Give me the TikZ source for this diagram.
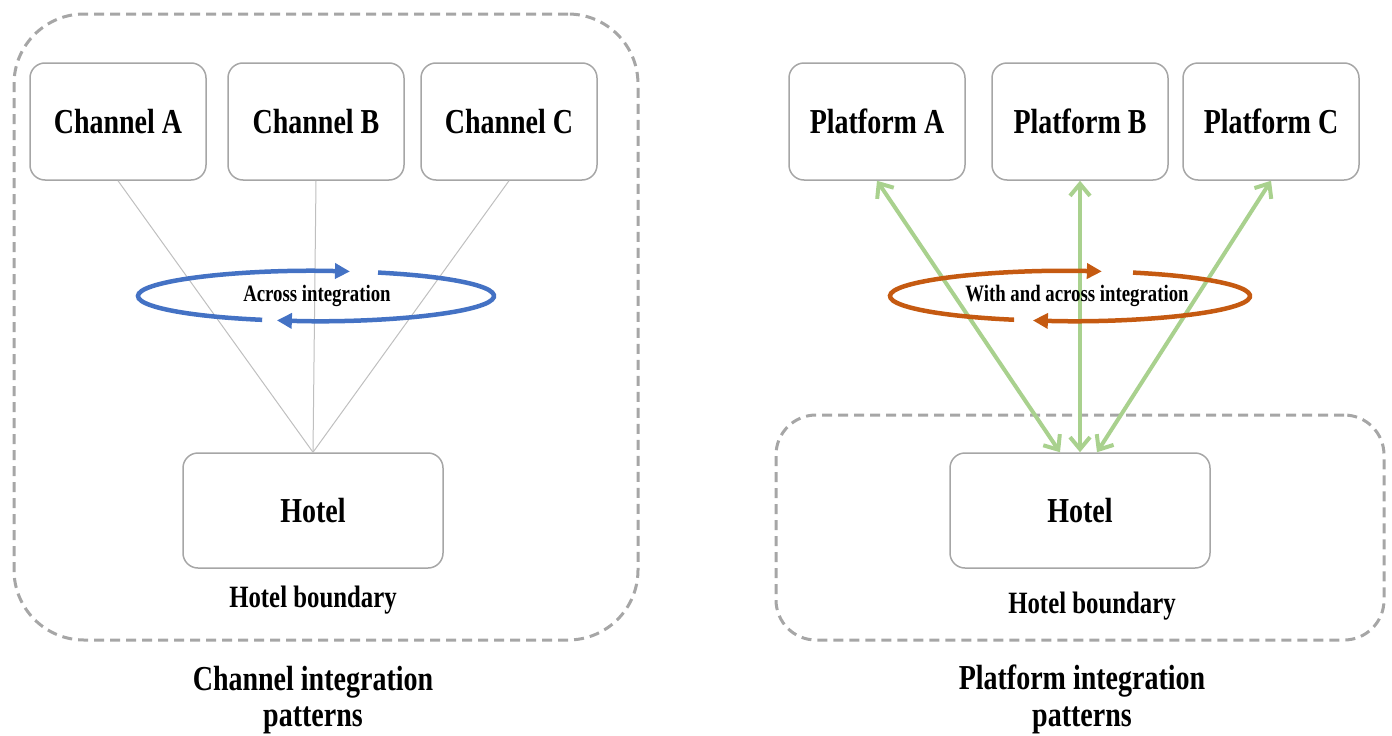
\documentclass[tikz,border=0pt]{standalone}
\usepackage{fontspec}
\usepackage{graphicx}
\setmainfont{Liberation Serif}
\usetikzlibrary{arrows.meta,calc}
\definecolor{boxgray}{HTML}{A6A6A6}
\definecolor{linegray}{HTML}{BFBFBF}
\definecolor{myblue}{HTML}{4472C4}
\definecolor{myorange}{HTML}{C55A11}
\definecolor{mygreen}{HTML}{A9D18E}
\newcommand\narrowtxt[1]{\scalebox{0.8}[1]{#1}}
\tikzset{
  entity/.style={draw=boxgray, line width=1.5pt, rounded corners=15pt, minimum width=176pt, minimum height=117pt, inner sep=0pt, font=\fontsize{35}{40}\selectfont\bfseries},
  hotelbox/.style={entity, minimum width=260pt, minimum height=115pt},
  boundary/.style={draw=boxgray, line width=3pt, dash pattern=on 10pt off 6pt, inner sep=0pt},
  boundlabel/.style={font=\fontsize{31}{35}\selectfont\bfseries},
  title/.style={font=\fontsize{35}{40}\selectfont\bfseries},
  looplabel/.style={font=\fontsize{23.5}{27}\selectfont\bfseries},
  link/.style={draw=linegray, line width=1pt},
  flow/.style={draw=mygreen, line width=4pt, line cap=round, {Straight Barb[length=12pt,width=20pt,line width=4pt]}-{Straight Barb[length=12pt,width=20pt,line width=4pt]}},
  loop/.style={line width=4.5pt, -{Triangle[length=15pt,width=15pt]}}
}
\begin{document}
\begin{tikzpicture}[x=1pt,y=-1pt]
\useasboundingbox (0,0) rectangle (1392,736);
% boundaries
\node[boundary, rounded corners=70pt, minimum width=624pt, minimum height=626pt] (bL) at (326,327) {};
\node[boundary, rounded corners=40pt, minimum width=608pt, minimum height=225pt] (bR) at (1080,527.5) {};
% left side
\node[entity] (chA) at (118,121.5) {\narrowtxt{Channel A}};
\node[entity] (chB) at (316,121.5) {\narrowtxt{Channel B}};
\node[entity] (chC) at (509,121.5) {\narrowtxt{Channel C}};
\node[hotelbox] (hotelL) at (313,510.5) {\narrowtxt{Hotel}};
\draw[link] (chA.south) -- (hotelL.north);
\draw[link] (chB.south) -- (hotelL.north);
\draw[link] (chC.south) -- (hotelL.north);
\coordinate (eL) at (316,296);
\draw[loop, draw=myblue] ($(eL)+(107.6:178 and 25)$) arc[start angle=107.6, end angle=281, x radius=178, y radius=25];
\draw[loop, draw=myblue] ($(eL)+(290.4:178 and 25)$) arc[start angle=290.4, end angle=462.7, x radius=178, y radius=25];
\node[looplabel] (lblL) at (317,296) {\narrowtxt{Across integration}};
\node[boundlabel] (hbL) at (313,600) {\narrowtxt{Hotel boundary}};
\node[title] (tL1) at (313,682) {\narrowtxt{Channel integration}};
\node[title] (tL2) at (313,720) {\narrowtxt{patterns}};
% right side
\node[entity] (pA) at (877,121.5) {\narrowtxt{Platform A}};
\node[entity] (pB) at (1080,121.5) {\narrowtxt{Platform B}};
\node[entity] (pC) at (1271,121.5) {\narrowtxt{Platform C}};
\node[hotelbox] (hotelR) at (1080,510.5) {\narrowtxt{Hotel}};
\draw[flow] (pA.south) -- ([xshift=-20pt]hotelR.north);
\draw[flow] (pB.south) -- (hotelR.north);
\draw[flow] (pC.south) -- ([xshift=17pt]hotelR.north);
\coordinate (eR) at (1070,296);
\draw[loop, draw=myorange] ($(eR)+(108.1:180 and 25)$) arc[start angle=108.1, end angle=280.2, x radius=180, y radius=25];
\draw[loop, draw=myorange] ($(eR)+(290.5:180 and 25)$) arc[start angle=290.5, end angle=461.9, x radius=180, y radius=25];
\node[looplabel] (lblR) at (1077,296) {\narrowtxt{With and across integration}};
\node[boundlabel] (hbR) at (1092,606) {\narrowtxt{Hotel boundary}};
\node[title] (tR1) at (1082,681) {\narrowtxt{Platform integration}};
\node[title] (tR2) at (1082,720) {\narrowtxt{patterns}};
\end{tikzpicture}
\end{document}
